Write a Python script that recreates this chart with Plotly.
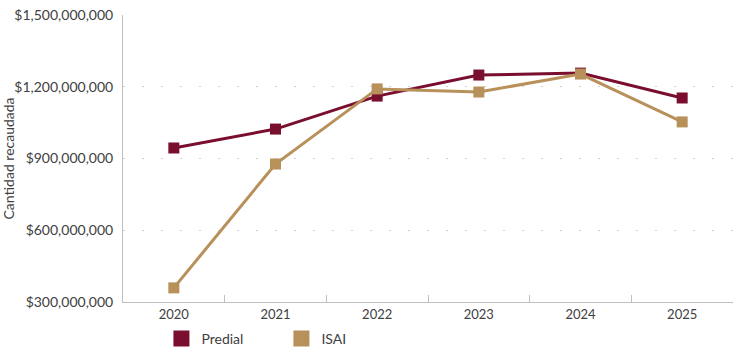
import plotly.graph_objects as go

years = ["2020", "2021", "2022", "2023", "2024", "2025"]
predial = [944e6, 1023e6, 1161e6, 1249e6, 1257e6, 1153e6]
isai = [359e6, 877e6, 1191e6, 1178e6, 1253e6, 1053e6]
y_ticks = [300e6, 600e6, 900e6, 1200e6, 1500e6]

c_pred = "#7A0E2F"
c_isai = "#B8905A"
font = "Lato"

fig = go.Figure()
fig.add_trace(go.Scatter(x=years, y=predial, mode="lines+markers", name="Predial",
                         line=dict(color=c_pred, width=3),
                         marker=dict(symbol="square", size=11, color=c_pred),
                         showlegend=False))
fig.add_trace(go.Scatter(x=years, y=isai, mode="lines+markers", name="ISAI",
                         line=dict(color=c_isai, width=3),
                         marker=dict(symbol="square", size=11, color=c_isai),
                         showlegend=False))
# legend-only entries
fig.add_trace(go.Scatter(x=[None], y=[None], mode="markers", name="Predial",
                         marker=dict(symbol="square", size=17, color=c_pred)))
fig.add_trace(go.Scatter(x=[None], y=[None], mode="markers", name="ISAI",
                         marker=dict(symbol="square", size=17, color=c_isai)))

fig.update_layout(
    width=733, height=347,
    margin=dict(l=123, r=0, t=15, b=45),
    paper_bgcolor="white", plot_bgcolor="white",
    font=dict(family=font, size=13, color="#404040"),
    legend=dict(orientation="h", x=0.063, xanchor="left", y=0.023, yanchor="middle",
                yref="container",
                font=dict(size=14, color="#404040"), entrywidth=75, entrywidthmode="pixels",
                tracegroupgap=0),
    showlegend=True,
)
fig.update_xaxes(type="category", range=[-0.5, 5.5], showline=True, linecolor="#BFBFBF",
                 linewidth=1, ticks="inside", tickson="boundaries", ticklen=7,
                 tickcolor="#BFBFBF", showgrid=False, tickfont=dict(size=13),
                 automargin=False)
fig.update_yaxes(range=[300e6, 1500e6], tickvals=y_ticks, tickformat="$,.0f",
                 showline=True, linecolor="#BFBFBF", linewidth=1,
                 showgrid=True, gridcolor="#D0D0D0", griddash="2px 17px", gridwidth=1,
                 zeroline=False, ticks="", tickfont=dict(size=14), ticklabelstandoff=6,
                 automargin=False,
                 title=dict(text="Cantidad recaudada", font=dict(size=14), standoff=0))

post = "document.body.style.margin='0px';document.body.style.overflow='hidden';"
fig.write_html("out.html", config={"displayModeBar": False}, post_script=post)
